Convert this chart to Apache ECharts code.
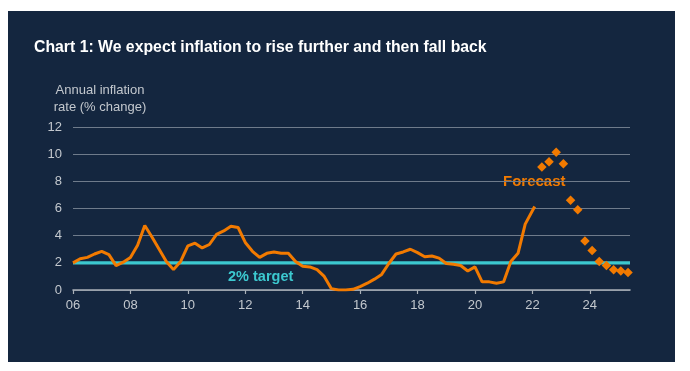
<!DOCTYPE html>
<html>
<head>
<meta charset="utf-8">
<script src="https://cdn.jsdelivr.net/npm/echarts@6/dist/echarts.min.js"></script>
<style>
html,body{margin:0;padding:0;background:#ffffff;}
#chart{width:690px;height:371px;}
</style>
</head>
<body>
<div id="chart"></div>
<script>
// ---- Data ----
var titleText = 'Chart 1: We expect inflation to rise further and then fall back';
var yAxisTitle = ['Annual inflation', 'rate (% change)'];
var xTickValues = [2006, 2008, 2010, 2012, 2014, 2016, 2018, 2020, 2022, 2024];
var xTickLabels = ['06', '08', '10', '12', '14', '16', '18', '20', '22', '24'];
var yTickValues = [0, 2, 4, 6, 8, 10, 12];

var historyDates = [
  2006.00, 2006.25, 2006.50, 2006.75, 2007.00, 2007.25, 2007.50, 2007.75,
  2008.00, 2008.25, 2008.50, 2008.75, 2009.00, 2009.25, 2009.50, 2009.75,
  2010.00, 2010.25, 2010.50, 2010.75, 2011.00, 2011.25, 2011.50, 2011.75,
  2012.00, 2012.25, 2012.50, 2012.75, 2013.00, 2013.25, 2013.50, 2013.75,
  2014.00, 2014.25, 2014.50, 2014.75, 2015.00, 2015.25, 2015.50, 2015.75,
  2016.00, 2016.25, 2016.50, 2016.75, 2017.00, 2017.25, 2017.50, 2017.75,
  2018.00, 2018.25, 2018.50, 2018.75, 2019.00, 2019.25, 2019.50, 2019.75,
  2020.00, 2020.25, 2020.50, 2020.75, 2021.00, 2021.25, 2021.50, 2021.75,
  2022.08
];
var historyValues = [
  2.0, 2.3, 2.4, 2.65, 2.85, 2.6, 1.8, 2.05,
  2.4, 3.3, 4.75, 3.9, 3.0, 2.1, 1.5, 2.1,
  3.25, 3.45, 3.1, 3.35, 4.1, 4.35, 4.7, 4.6,
  3.5, 2.85, 2.4, 2.7, 2.8, 2.7, 2.7, 2.1,
  1.75, 1.7, 1.5, 1.0, 0.1, 0.0, 0.0, 0.05,
  0.25, 0.5, 0.8, 1.15, 1.95, 2.65, 2.8, 3.0,
  2.75, 2.45, 2.5, 2.35, 1.95, 1.9, 1.8, 1.4,
  1.7, 0.6, 0.6, 0.5, 0.6, 2.1, 2.7, 4.85,
  6.15
];
var forecastDates = [2022.33, 2022.58, 2022.83, 2023.08, 2023.33, 2023.58, 2023.83,
                     2024.08, 2024.33, 2024.58, 2024.83, 2025.08, 2025.33];
var forecastValues = [9.05, 9.45, 10.15, 9.3, 6.6, 5.9, 3.6, 2.9, 2.1, 1.8, 1.5, 1.4, 1.28];
var targetValue = 2;
var targetLabel = '2% target';
var forecastLabel = 'Forecast';
var xMin = 2006, xMax = 2025.4;

// ---- Build ----
var historyData = historyDates.map(function (d, i) { return [d, historyValues[i]]; });
var forecastData = forecastDates.map(function (d, i) { return [d, forecastValues[i]]; });
var targetData = [[xMin, targetValue], [xMax, targetValue]];

var FONT = '"Liberation Sans", Arial, sans-serif';
var NAVY = '#14263f';
var ORANGE = '#f27a00';
var CYAN = '#3cc8cf';
var GREY = '#c3c8ce';

var chart = echarts.init(document.getElementById('chart'), null, {renderer: 'canvas'});
chart.setOption({
  animation: false,
  backgroundColor: 'transparent',
  grid: {left: 73, right: 60, top: 127, bottom: 81, containLabel: false},
  graphic: [
    {type: 'rect', z: -10, silent: true, shape: {x: 8, y: 11, width: 667, height: 351}, style: {fill: NAVY}},
    {type: 'text', left: 34, top: 40, style: {text: titleText, fill: '#ffffff', font: 'bold 15.8px ' + FONT}},
    {type: 'text', style: {x: 100, y: 90, text: yAxisTitle.join('\n'), fill: GREY, font: '13px ' + FONT,
      align: 'center', verticalAlign: 'middle', lineHeight: 16.5}, position: [0, 9]},
    {type: 'text', style: {x: 228, y: 277, text: targetLabel, fill: CYAN, font: 'bold 14.5px ' + FONT,
      align: 'left', verticalAlign: 'middle'}},
    {type: 'text', style: {x: 503, y: 182, text: forecastLabel, fill: ORANGE, font: 'bold 15px ' + FONT,
      align: 'left', verticalAlign: 'middle'}}
  ],
  xAxis: {
    type: 'value', min: xMin, max: xMax, interval: 2,
    axisLine: {show: true, lineStyle: {color: '#a9b0b8', width: 1.6}},
    axisTick: {show: true, length: 4, customValues: xTickValues, lineStyle: {color: '#a9b0b8', width: 1.2}},
    axisLabel: {
      customValues: xTickValues, color: GREY, fontFamily: FONT, fontSize: 13, margin: 9,
      formatter: function (v) { var i = xTickValues.indexOf(Math.round(v)); return i >= 0 ? xTickLabels[i] : ''; }
    },
    splitLine: {show: false}
  },
  yAxis: {
    type: 'value', min: 0, max: 12, interval: 2,
    axisLine: {show: false}, axisTick: {show: false},
    axisLabel: {color: GREY, fontFamily: FONT, fontSize: 13, margin: 11},
    splitLine: {show: true, lineStyle: {color: '#6f7b8b', width: 1.2}}
  },
  series: [
    {
      type: 'line', data: targetData, symbol: 'none', z: 3,
      lineStyle: {color: CYAN, width: 3.3}
    },
    {
      type: 'line', data: historyData, symbol: 'none', z: 4,
      lineStyle: {color: ORANGE, width: 3}
    },
    {
      type: 'scatter', data: forecastData, symbol: 'diamond', symbolSize: 9.5, z: 5,
      itemStyle: {color: ORANGE, opacity: 1}
    }
  ]
});
</script>
</body>
</html>
